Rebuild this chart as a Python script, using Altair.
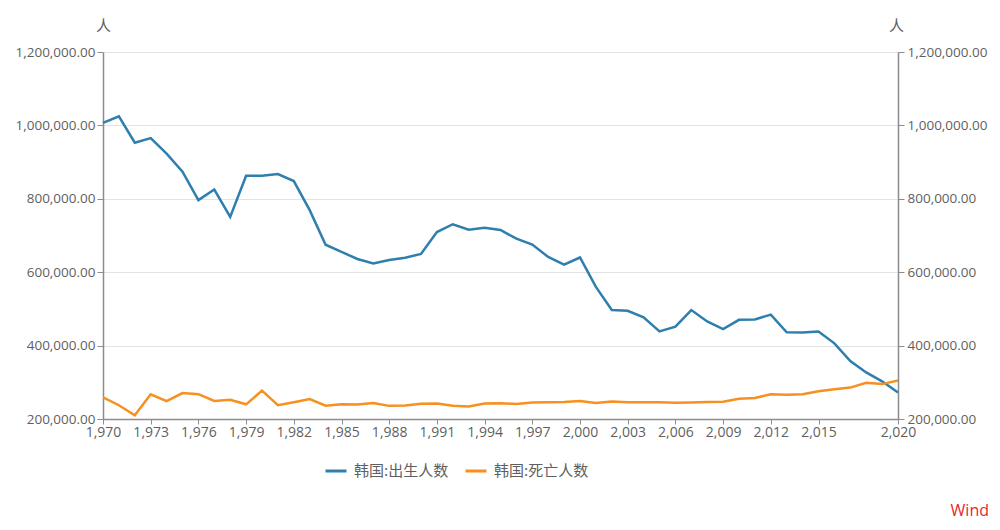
import altair as alt
import pandas as pd

years = list(range(1970, 2021))
births = [1006645, 1024773, 952780, 965521, 922823, 874030, 796331, 825339, 750728, 862669,
          862835, 867409, 848312, 769155, 674793, 655489, 636019, 623831, 633092, 639431,
          649738, 709275, 730678, 715826, 721185, 715020, 691226, 675394, 641594, 620668,
          640089, 559934, 496911, 495036, 476958, 438707, 451759, 496822, 465892, 444849,
          470171, 471265, 484550, 436455, 435435, 438420, 406243, 357771, 326822, 302676,
          272337]
deaths = [258589, 237528, 210071, 267460, 248807, 270657, 267738, 249254, 252298, 239986,
          277284, 237481, 245767, 254563, 236445, 240418, 239256, 243504, 235779, 236818,
          241616, 242270, 236162, 234257, 242439, 242838, 241149, 244693, 245825, 246539,
          248740, 243813, 247524, 245817, 245771, 245874, 244162, 244874, 246113, 246942,
          255405, 257396, 267221, 266257, 267692, 275895, 280827, 285534, 298820, 295110,
          304948]
series_names = ["韩国:出生人数", "韩国:死亡人数"]
series_colors = ["#2e7fae", "#f7901e"]
y_ticks = [200000, 400000, 600000, 800000, 1000000, 1200000]
x_ticks = [1970, 1973, 1976, 1979, 1982, 1985, 1988, 1991, 1994, 1997, 2000, 2003,
           2006, 2009, 2012, 2015, 2020]

df = pd.DataFrame({
    "year": years * 2,
    "value": births + deaths,
    "series": [series_names[0]] * len(years) + [series_names[1]] * len(years),
})

num_font = "Open Sans"
cjk_font = "Noto Sans CJK SC"
grey = "#5f5f5f"

x_enc = alt.X("year:Q",
              scale=alt.Scale(domain=[1970, 2020], nice=False, zero=False),
              axis=alt.Axis(values=x_ticks, format=",d", title=None, grid=False,
                            domainColor="#8c8c8c", domainWidth=1.5, tickColor="#8c8c8c",
                            tickSize=5, labelFont=num_font, labelFontSize=14,
                            labelColor=grey, labelPadding=1, labelFlush=False))
y_scale = alt.Scale(domain=[200000, 1200000], nice=False, zero=False)

lines = alt.Chart(df).mark_line(strokeWidth=2.5).encode(
    x=x_enc,
    y=alt.Y("value:Q", scale=y_scale,
            axis=alt.Axis(orient="left", values=y_ticks, format=",.2f", title="人",
                          titleAngle=0, titleX=0, titleY=-19, titleAlign="center",
                          titleBaseline="bottom", titleFont=cjk_font, titleFontSize=15,
                          titleFontWeight="normal", titleColor=grey,
                          grid=True, gridColor="#e3e3e3", domainColor="#8c8c8c",
                          domainWidth=1.5, tickColor="#8c8c8c", tickSize=6,
                          labelFont=num_font, labelFontSize=13.5, labelColor=grey,
                          labelPadding=2)),
    color=alt.Color("series:N",
                    scale=alt.Scale(domain=series_names, range=series_colors),
                    legend=alt.Legend(orient="none", legendX=221, legendY=407,
                                      direction="horizontal", title=None,
                                      symbolType="stroke", symbolSize=441,
                                      symbolStrokeWidth=3, labelFont=cjk_font,
                                      labelFontSize=15, labelColor=grey,
                                      labelOffset=6, columnPadding=10)),
)

right_axis = alt.Chart(df).mark_line(opacity=0).encode(
    x=x_enc,
    y=alt.Y("value:Q", scale=y_scale,
            axis=alt.Axis(orient="right", values=y_ticks, format=",.2f", title="人",
                          titleAngle=0, titleX=-2, titleY=-19, titleAlign="center",
                          titleBaseline="bottom", titleFont=cjk_font, titleFontSize=15,
                          titleFontWeight="normal", titleColor=grey,
                          grid=False, domainColor="#8c8c8c", domainWidth=1.5,
                          tickColor="#8c8c8c", tickSize=6, labelFont=num_font,
                          labelFontSize=13.5, labelColor=grey, labelPadding=3)),
)

wind = alt.Chart(pd.DataFrame({"t": ["Wind"]})).mark_text(
    align="right", baseline="middle", font=num_font, fontSize=16, color="#e8262a"
).encode(x=alt.value(886), y=alt.value(459), text="t:N")

chart = alt.layer(lines, right_axis, wind).resolve_scale(y="independent").properties(
    width=795, height=367,
    autosize=alt.AutoSizeParams(type="none"),
    padding={"left": 95, "top": 44, "right": 94, "bottom": 103},
).configure_view(stroke=None)

chart.save("out.html", embed_options={"renderer": "svg", "actions": False})
